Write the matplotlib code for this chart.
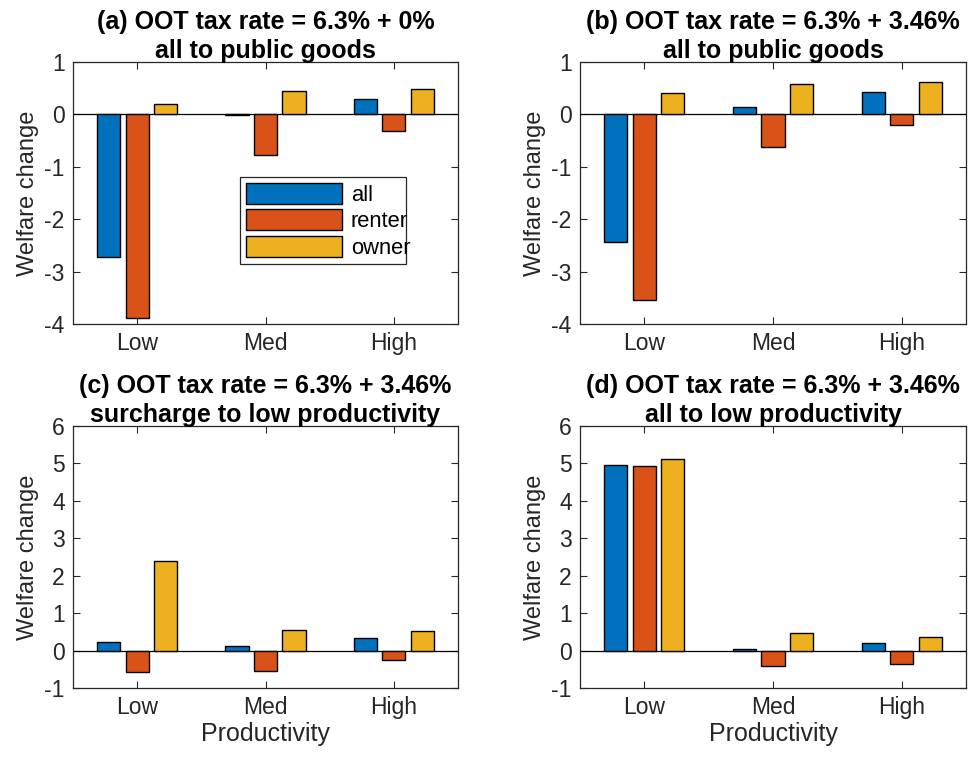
import matplotlib
matplotlib.use("Agg")
import matplotlib.pyplot as plt
import numpy as np

plt.rcParams['font.family'] = ['Liberation Sans', 'DejaVu Sans']
plt.rcParams['axes.unicode_minus'] = False

categories = ["Low", "Med", "High"]
series_names = ["all", "renter", "owner"]
colors = ["#0072BD", "#D95319", "#EDB120"]

titles = [
    "(a) OOT tax rate = 6.3% + 0%\nall to public goods",
    "(b) OOT tax rate = 6.3% + 3.46%\nall to public goods",
    "(c) OOT tax rate = 6.3% + 3.46%\nsurcharge to low productivity",
    "(d) OOT tax rate = 6.3% + 3.46%\nall to low productivity",
]

# welfare change per productivity group: rows = all, renter, owner
panel_a = [[-2.72, -0.01, 0.29],
           [-3.88, -0.77, -0.32],
           [0.20, 0.44, 0.48]]
panel_b = [[-2.43, 0.14, 0.42],
           [-3.54, -0.62, -0.20],
           [0.41, 0.58, 0.61]]
panel_c = [[0.22, 0.11, 0.33],
           [-0.56, -0.54, -0.26],
           [2.39, 0.55, 0.52]]
panel_d = [[4.95, 0.05, 0.20],
           [4.92, -0.40, -0.37],
           [5.12, 0.48, 0.37]]

ylims = [(-4, 1), (-4, 1), (-1, 6), (-1, 6)]
panels = [panel_a, panel_b, panel_c, panel_d]

W, H = 979, 761
fig = plt.figure(figsize=(W / 100, H / 100), dpi=100)

# axes boxes in pixels: left, right, top, bottom
boxes = [(73, 458, 62, 324), (580, 966, 62, 324),
         (73, 458, 426, 688), (580, 966, 426, 688)]

frame_col = "#262626"
x = np.arange(1, 4)
offset = 0.222
width = 0.18

for i, (data, title, yl, box) in enumerate(zip(panels, titles, ylims, boxes)):
    l, r, t, b = box
    ax = fig.add_axes([l / W, 1 - b / H, (r - l) / W, (b - t) / H])
    handles = []
    for k, (vals, col, name) in enumerate(zip(data, colors, series_names)):
        h = ax.bar(x + (k - 1) * offset, vals, width, color=col,
                   edgecolor="black", linewidth=1.0, label=name, zorder=3)
        handles.append(h)
    ax.axhline(0, color="black", linewidth=0.9, zorder=2)
    ax.set_xlim(0.5, 3.5)
    ax.set_ylim(*yl)
    ax.set_yticks(np.arange(yl[0], yl[1] + 1))
    ax.set_xticks(x)
    ax.set_xticklabels(categories)
    ax.tick_params(direction="in", top=True, right=True, length=5,
                   width=0.8, color=frame_col, labelsize=16.5,
                   labelcolor="#262626", pad=6)
    for s in ax.spines.values():
        s.set_color(frame_col)
        s.set_linewidth(0.9)
    ax.set_ylabel("Welfare change", fontsize=17, color="#262626", labelpad=4)
    ax.set_title(title, fontsize=18, fontweight="bold", pad=3,
                 linespacing=1.28)
    if i >= 2:
        ax.set_xlabel("Productivity", fontsize=18, color="#262626", labelpad=2)
    if i == 0:
        leg = ax.legend(handles=handles, loc="lower left",
                        bbox_to_anchor=(0.434, 0.229, 0.431, 0.317),
                        mode="expand", fontsize=15.8, handlelength=4.4,
                        handleheight=1.1, handletextpad=0.4,
                        labelspacing=0.15, borderpad=0.25,
                        fancybox=False, framealpha=1, borderaxespad=0)
        leg.get_frame().set_edgecolor(frame_col)
        leg.get_frame().set_linewidth(0.9)

fig.savefig("out.png", dpi=100)
